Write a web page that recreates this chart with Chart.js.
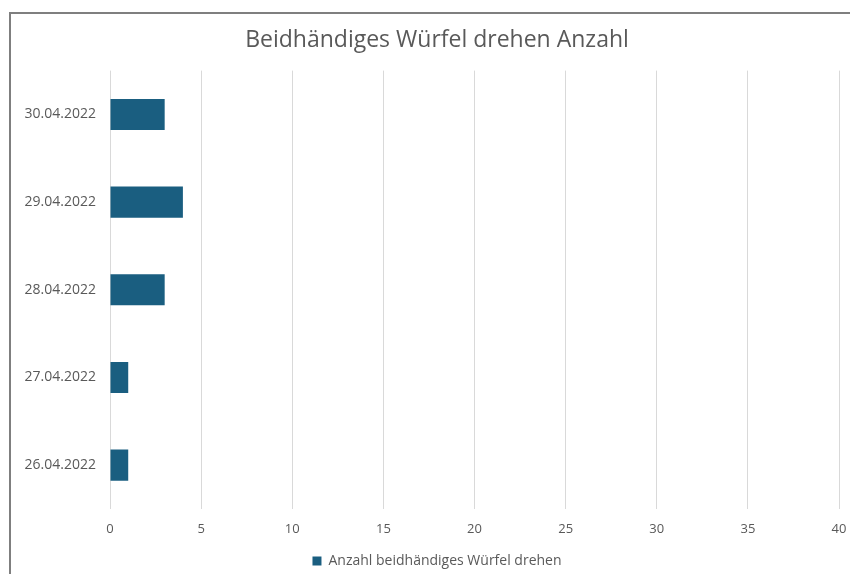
<!DOCTYPE html>
<html>
<head>
<meta charset="utf-8">
<script src="https://cdn.jsdelivr.net/npm/chart.js@4.4.0/dist/chart.umd.min.js"></script>
<style>
  html, body { margin: 0; padding: 0; background: #fff; }
  #wrap { position: relative; width: 850px; height: 574px; overflow: hidden; }
  #frame { position: absolute; left: 9px; top: 12px; width: 900px; height: 600px;
           border-left: 2px solid #7f7f7f; border-top: 2px solid #7f7f7f; }
  canvas { position: absolute; left: 0; top: 0; }
</style>
</head>
<body>
<div id="wrap">
  <div id="frame"></div>
  <!-- etwas höher als das Fenster, der Rahmen ist unten abgeschnitten -->
  <canvas id="chart" width="850" height="578"></canvas>
</div>
<script>
// Daten (von oben nach unten wie im Diagramm)
const tage = ['30.04.2022', '29.04.2022', '28.04.2022', '27.04.2022', '26.04.2022'];
const anzahl = [3, 4, 3, 1, 1];
const serienName = 'Anzahl beidhändiges Würfel drehen';
const titel = 'Beidhändiges Würfel drehen Anzahl';

const grau = '#595959';
const balkenFarbe = '#1a5e80';

const ctx = document.getElementById('chart').getContext('2d');

new Chart(ctx, {
    type: 'bar',
    data: {
        labels: tage,
        datasets: [{
            label: serienName,
            data: anzahl,
            backgroundColor: balkenFarbe,
            borderWidth: 0,
            categoryPercentage: 1,
            barPercentage: 0.355
        }]
    },
    options: {
        indexAxis: 'y',
        responsive: false,
        animation: false,
        layout: { padding: { left: 24, right: 0, top: 0, bottom: 0 } },
        plugins: {
            title: {
                display: true,
                text: titel,
                color: grau,
                font: { family: 'Open Sans', size: 23, weight: 'normal' },
                padding: { top: 27, bottom: 16 }
            },
            legend: {
                position: 'bottom',
                labels: {
                    color: grau,
                    boxWidth: 9,
                    boxHeight: 9,
                    padding: 4,
                    font: { family: 'Open Sans', size: 14 }
                }
            },
            tooltip: { enabled: false }
        },
        scales: {
            x: {
                min: 0,
                max: 40,
                ticks: {
                    stepSize: 5,
                    color: grau,
                    padding: 12,
                    font: { family: 'Open Sans', size: 13 }
                },
                grid: { color: '#d9d9d9', lineWidth: 1, drawTicks: false },
                border: { display: false },
                afterFit: function (scale) {
                    scale.height = 41;
                    scale.paddingRight = 11;
                }
            },
            y: {
                ticks: {
                    color: grau,
                    padding: 14,
                    font: { family: 'Open Sans', size: 14 }
                },
                grid: { display: false, drawTicks: false },
                border: { display: false },
                afterFit: function (scale) { scale.width = 86; }
            }
        }
    }
});
</script>
</body>
</html>
